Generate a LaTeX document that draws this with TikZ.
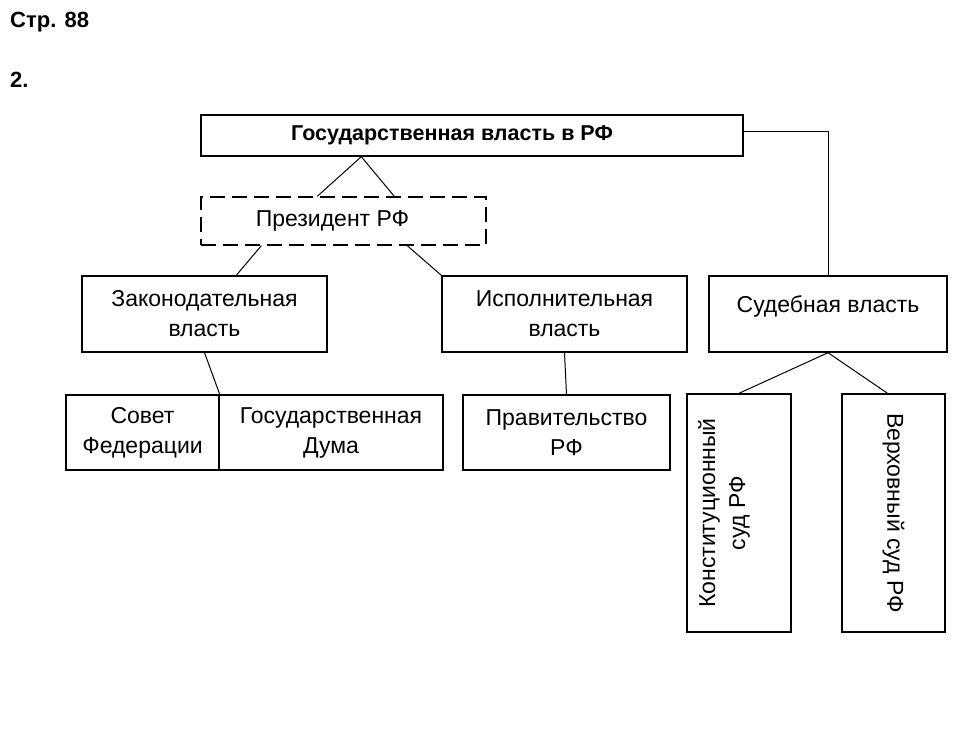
\documentclass[tikz,border=0pt]{standalone}
\usepackage{fontspec}
\setmainfont{Liberation Sans}
\usepackage{tikz}
\tikzset{>=stealth}
\tikzset{
    box/.style = {draw, line width=1.4pt, inner sep=0pt, align=center, font=\fontsize{23}{30}\selectfont},
    link/.style = {line width=1pt},
    head/.style = {anchor = base west, inner sep=0pt, font=\fontsize{22}{25}\selectfont\bfseries}
}

\begin{document}
\begin{tikzpicture}[x=1pt, y=-1pt]
    \useasboundingbox (0,0) rectangle (965,751);
    \node at (10,28) [head] (page) {Стр. 88};
    \node at (10,88) [head] (num) {2.};
    \node at (472,135.5) [box, minimum width=542pt, minimum height=41pt, font=\fontsize{21.5}{30}\selectfont\bfseries] (top) {Государственная власть в РФ\hspace*{40pt}};
    \node at (343.5,221) [box, dash pattern=on 15pt off 7pt, minimum width=285pt, minimum height=48pt] (pres) {Президент РФ\hspace*{22pt}};
    \node at (204.5,314) [box, minimum width=245pt, minimum height=76pt] (zak) {Законодательная\\власть};
    \node at (564.5,314) [box, minimum width=245pt, minimum height=76pt] (isp) {Исполнительная\\власть};
    \node at (828,314) [box, text depth=20pt, minimum width=238pt, minimum height=76pt] (sud) {Судебная власть};
    \node at (142.5,432.5) [box, minimum width=153pt, minimum height=75pt] (sovet) {Совет\\Федерации};
    \node at (331,432.5) [box, minimum width=224pt, minimum height=75pt] (duma) {Государственная\\Дума};
    \node at (566.5,432.5) [box, minimum width=207pt, minimum height=75pt] (prav) {Правительство\\РФ};
    \node at (739,513) [box, rotate=90, text depth=35pt, minimum width=238pt, minimum height=104pt] (konst) {Конституционный\\суд РФ};
    \node at (893.5,513) [box, rotate=-90, minimum width=238pt, minimum height=103pt] (verh) {Верховный суд РФ};

    \draw [link] ([xshift=161pt]top.south west) -- ([xshift=117pt]pres.north west);
    \draw [link] ([xshift=161pt]top.south west) -- ([xshift=194pt]pres.north west);
    \draw [link] ([xshift=61pt]pres.south west) -- ([xshift=155pt]zak.north west);
    \draw [link] ([xshift=207pt]pres.south west) -- (isp.north west);
    \draw [link] ([yshift=4pt]top.east) -| (sud.north);
    \draw [link] (zak.south) -- (sovet.north east);
    \draw [link] (isp.south) -- (prav.north);
    \draw [link] (sud.south) -- (konst.east);
    \draw [link] (sud.south) -- ([xshift=-6pt]verh.west);
\end{tikzpicture}
\end{document}
